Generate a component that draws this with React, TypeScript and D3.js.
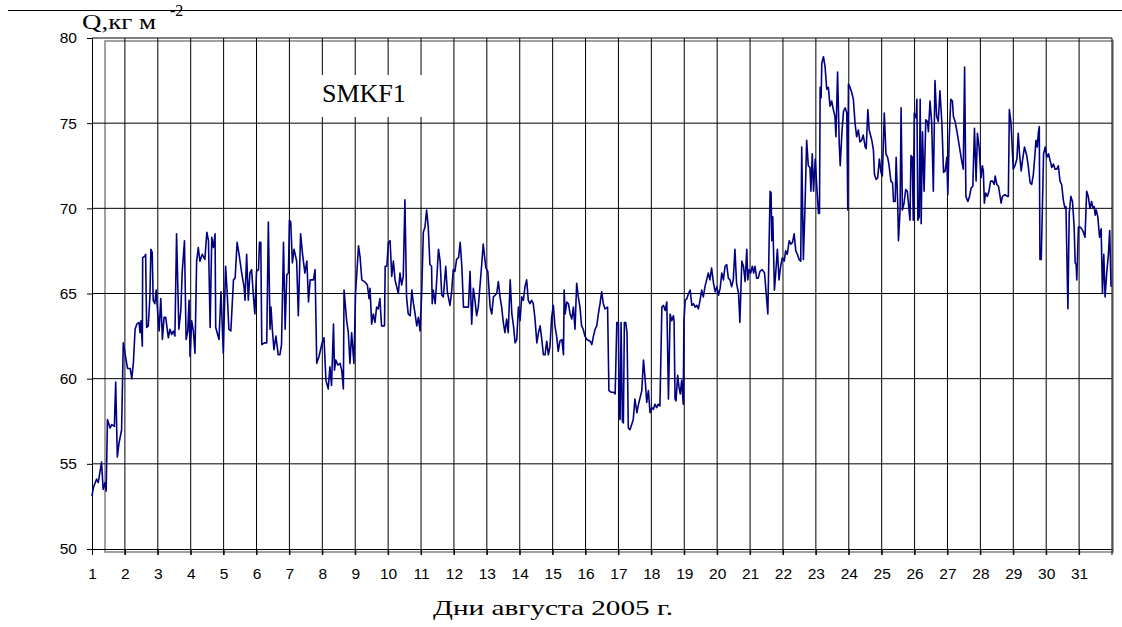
import React, { useRef, useEffect } from "react";
import * as d3 from "d3";

// Q (kg m^-2), station SMKF1, August 2005 — [day of month, value]
const qSeries: [number, number][] = [
  [1.0, 53.1], [1.04, 53.6], [1.14, 54.1], [1.19, 53.9], [1.29, 55.1], [1.34, 53.5], [1.4, 53.9], [1.43, 53.4],
  [1.47, 57.6], [1.55, 57.1], [1.6, 57.3], [1.68, 57.2], [1.72, 59.8], [1.77, 55.4], [1.82, 56.2], [1.9, 57.0],
  [1.95, 62.1], [2.02, 61.3], [2.08, 60.6], [2.16, 60.6], [2.21, 60.0], [2.26, 61.0], [2.31, 62.9], [2.36, 63.2],
  [2.43, 63.3], [2.46, 62.7], [2.49, 63.4], [2.53, 61.9], [2.54, 67.1], [2.61, 67.2], [2.63, 67.3], [2.66, 63.0],
  [2.71, 63.1], [2.76, 64.8], [2.79, 67.6], [2.83, 67.4], [2.86, 64.6], [2.91, 64.4], [2.95, 65.2], [3.0, 63.8],
  [3.04, 62.8], [3.09, 64.7], [3.14, 62.3], [3.19, 63.6], [3.24, 63.6], [3.32, 62.4], [3.37, 62.9], [3.42, 62.6],
  [3.47, 62.8], [3.52, 62.5], [3.57, 68.5], [3.64, 62.9], [3.7, 64.0], [3.74, 66.2], [3.81, 68.1], [3.86, 62.3],
  [3.91, 62.8], [3.95, 64.6], [3.98, 61.3], [4.03, 63.4], [4.08, 62.8], [4.13, 61.5], [4.18, 66.9], [4.23, 67.7],
  [4.28, 66.9], [4.35, 67.3], [4.43, 67.0], [4.49, 68.6], [4.54, 68.1], [4.59, 63.0], [4.64, 68.3], [4.69, 67.7],
  [4.74, 68.5],
  [4.76, 63.0], [4.86, 62.3], [4.92, 65.1], [4.99, 61.5], [5.06, 66.6], [5.11, 65.0], [5.16, 62.9], [5.22, 62.8],
  [5.3, 65.8], [5.35, 65.9], [5.41, 68.0], [5.47, 67.3], [5.55, 66.2], [5.62, 65.4], [5.65, 64.6], [5.7, 67.3],
  [5.75, 64.6], [5.8, 66.2], [5.85, 66.4], [5.9, 65.0], [5.95, 63.8], [6.0, 66.3], [6.06, 66.4], [6.09, 68.0],
  [6.13, 68.0], [6.16, 62.0], [6.24, 62.1], [6.31, 62.1], [6.36, 69.2], [6.41, 62.9], [6.44, 64.2], [6.48, 62.9],
  [6.53, 61.7], [6.59, 62.5], [6.66, 61.4], [6.71, 61.4], [6.76, 62.0], [6.82, 68.0], [6.87, 62.9], [6.92, 66.1],
  [6.97, 66.2], [7.0, 69.3], [7.04, 69.2], [7.09, 66.8], [7.14, 67.6], [7.22, 66.9], [7.27, 63.7], [7.34, 68.5],
  [7.4, 67.3], [7.47, 66.2], [7.53, 66.9], [7.58, 64.5], [7.63, 65.8], [7.73, 65.8], [7.78, 66.4], [7.83, 60.9],
  [7.9, 61.3], [7.98, 62.0], [8.05, 62.4], [8.11, 59.9], [8.18, 59.4], [8.23, 60.7], [8.28, 59.6], [8.34, 63.2],
  [8.37, 60.5], [8.41, 61.1], [8.47, 60.8], [8.54, 60.9], [8.59, 60.5], [8.64, 59.4], [8.66, 65.2],
  [8.74, 63.4], [8.79, 62.7], [8.84, 60.9], [8.89, 62.7], [8.96, 60.9], [9.01, 65.0], [9.1, 67.8], [9.15, 67.1],
  [9.2, 65.8], [9.28, 65.7], [9.37, 65.5], [9.42, 64.7], [9.45, 65.3], [9.5, 63.2], [9.55, 63.8], [9.6, 63.3],
  [9.65, 64.2], [9.7, 64.1], [9.75, 64.7], [9.8, 63.1], [9.89, 63.1], [9.91, 66.6], [9.96, 66.6], [10.01, 68.0],
  [10.06, 68.1], [10.11, 66.0], [10.16, 66.9], [10.21, 65.8], [10.31, 65.0], [10.36, 66.2], [10.41, 65.5], [10.46, 66.0],
  [10.51, 70.5], [10.56, 64.8], [10.61, 63.8], [10.67, 63.7], [10.72, 65.2], [10.77, 64.4], [10.82, 63.8], [10.87, 63.1],
  [10.92, 63.6], [10.97, 62.8], [11.02, 65.0], [11.07, 68.6], [11.12, 68.9], [11.17, 69.9], [11.22, 68.9], [11.27, 66.7],
  [11.32, 66.6], [11.34, 64.4], [11.37, 65.2], [11.43, 64.4], [11.48, 65.9], [11.53, 67.6], [11.58, 66.9], [11.63, 64.9],
  [11.68, 64.8], [11.75, 66.6], [11.8, 65.1], [11.88, 64.3], [11.93, 65.1], [11.98, 66.4], [12.03, 66.3], [12.08, 67.0],
  [12.14, 67.1], [12.19, 68.0], [12.24, 66.6], [12.29, 64.2], [12.34, 64.2], [12.44, 64.2], [12.49, 66.3], [12.54, 63.2],
  [12.59, 65.3], [12.64, 64.6], [12.69, 63.7], [12.74, 64.2],
  [12.84, 66.6], [12.89, 67.9], [12.97, 66.5], [13.03, 66.3], [13.1, 64.2], [13.15, 63.8], [13.2, 64.8], [13.25, 64.9],
  [13.3, 65.0], [13.35, 65.7], [13.4, 64.8], [13.45, 64.2], [13.5, 63.3], [13.55, 62.7], [13.6, 63.5], [13.65, 62.7],
  [13.71, 65.8], [13.76, 63.8], [13.81, 63.1], [13.86, 62.1], [13.91, 62.3], [13.96, 64.2], [14.01, 63.4], [14.06, 64.8],
  [14.11, 64.6], [14.16, 65.4], [14.21, 65.8], [14.26, 64.6], [14.31, 64.4], [14.36, 64.6], [14.41, 64.4], [14.46, 63.6],
  [14.52, 62.1], [14.57, 62.7], [14.62, 63.1], [14.67, 62.3], [14.72, 61.4], [14.77, 61.4], [14.82, 62.2], [14.87, 61.4],
  [14.92, 61.9], [14.97, 63.6], [15.02, 64.3], [15.07, 63.1], [15.12, 62.5], [15.17, 61.6], [15.22, 62.2], [15.28, 62.3],
  [15.33, 61.4], [15.35, 65.2], [15.38, 63.8], [15.43, 64.5], [15.48, 64.4], [15.53, 63.8], [15.58, 63.5], [15.63, 64.2],
  [15.68, 62.9], [15.73, 65.6], [15.78, 64.8], [15.83, 64.2], [15.88, 63.1], [15.93, 62.9], [15.98, 62.5], [16.04, 62.3],
  [16.14, 62.2], [16.19, 62.0], [16.24, 62.5], [16.29, 62.9], [16.34, 63.1], [16.39, 63.8], [16.44, 64.4], [16.49, 65.1],
  [16.54, 64.4], [16.59, 64.1],
  [16.67, 64.2], [16.71, 59.3], [16.78, 59.2], [16.85, 59.2], [16.9, 59.1], [16.95, 63.3], [17.0, 63.3], [17.02, 58.0],
  [17.05, 57.6], [17.08, 63.3], [17.12, 57.5], [17.15, 57.4], [17.18, 63.3], [17.22, 63.3], [17.26, 62.7], [17.3, 57.1],
  [17.35, 57.0], [17.4, 57.3], [17.45, 57.6], [17.5, 58.8], [17.56, 58.0], [17.61, 58.5], [17.66, 58.9], [17.71, 59.3],
  [17.76, 61.1], [17.81, 60.0], [17.86, 58.6], [17.91, 59.3], [17.96, 58.0], [18.01, 58.3], [18.06, 58.2], [18.11, 58.5],
  [18.16, 58.3], [18.21, 58.5], [18.26, 58.4], [18.32, 64.2], [18.37, 64.3], [18.42, 64.0], [18.47, 64.5], [18.52, 58.8],
  [18.57, 63.8], [18.62, 63.4], [18.67, 63.7], [18.69, 63.4], [18.72, 58.8], [18.75, 58.7], [18.8, 60.2], [18.84, 59.5],
  [18.88, 59.1], [18.92, 59.9], [18.97, 58.5], [18.99, 63.4], [19.03, 64.6], [19.08, 64.7], [19.13, 65.0], [19.18, 65.2],
  [19.23, 64.3], [19.28, 64.4], [19.33, 64.2], [19.38, 64.3], [19.43, 64.1], [19.48, 64.6], [19.53, 65.2], [19.58, 64.8],
  [19.63, 65.4], [19.68, 65.8], [19.73, 66.2], [19.78, 65.8], [19.83, 66.5], [19.89, 65.6], [19.94, 65.1], [19.99, 65.4],
  [20.04, 64.9], [20.09, 65.3], [20.14, 66.2], [20.19, 65.8], [20.24, 66.6], [20.29, 66.7], [20.34, 65.9], [20.39, 65.8],
  [20.44, 65.4], [20.49, 65.8], [20.54, 67.6],
  [20.59, 65.6], [20.65, 65.0], [20.69, 63.3], [20.75, 66.9], [20.8, 66.6], [20.85, 65.7], [20.9, 67.6], [20.93, 65.8],
  [20.97, 66.4], [21.02, 66.2], [21.07, 66.6], [21.11, 66.2], [21.15, 66.6], [21.2, 65.9], [21.25, 65.9], [21.3, 66.3],
  [21.37, 66.4], [21.44, 66.2], [21.49, 65.0], [21.54, 63.8], [21.58, 68.1], [21.61, 71.0], [21.64, 70.9], [21.66, 68.1],
  [21.69, 69.5], [21.74, 65.2], [21.78, 66.2], [21.83, 67.6], [21.88, 65.8], [21.93, 66.6], [21.98, 67.1], [22.04, 66.9],
  [22.08, 67.5], [22.13, 67.3], [22.19, 68.1], [22.24, 67.9], [22.29, 68.0], [22.34, 68.5], [22.39, 67.5], [22.44, 67.3],
  [22.49, 67.0], [22.54, 66.9], [22.57, 73.6], [22.62, 67.0], [22.67, 70.1], [22.72, 74.0], [22.77, 72.5], [22.82, 72.4],
  [22.85, 71.0], [22.89, 73.2], [22.93, 71.0], [22.98, 72.9], [23.03, 71.2], [23.08, 69.7], [23.11, 69.7], [23.13, 77.1],
  [23.16, 76.5], [23.18, 78.5], [23.23, 78.9], [23.28, 78.3], [23.33, 77.0], [23.38, 77.1], [23.43, 76.0], [23.48, 76.3],
  [23.53, 75.8], [23.58, 75.4], [23.61, 74.2], [23.66, 78.0], [23.71, 73.8], [23.74, 72.5], [23.79, 74.4], [23.84, 75.7],
  [23.89, 75.9], [23.94, 75.6], [23.97, 69.9], [23.99, 77.3], [24.04, 77.1], [24.09, 76.8], [24.14, 76.4], [24.19, 75.0],
  [24.24, 74.2], [24.29, 74.6], [24.34, 73.9], [24.39, 74.0], [24.44, 74.3], [24.5, 73.6],
  [24.53, 73.5], [24.58, 75.8], [24.62, 74.6], [24.7, 74.0], [24.75, 73.4], [24.78, 72.0], [24.83, 71.7], [24.88, 71.8],
  [24.93, 72.9], [24.98, 72.1], [25.02, 71.9], [25.08, 75.6], [25.13, 73.2], [25.18, 73.0], [25.22, 72.6], [25.28, 71.6],
  [25.33, 71.5], [25.36, 70.4], [25.41, 70.4], [25.44, 73.0], [25.49, 70.1], [25.51, 68.1], [25.56, 69.9], [25.59, 75.9],
  [25.63, 69.9], [25.68, 70.3], [25.73, 71.1], [25.78, 71.0], [25.83, 69.9], [25.86, 69.3], [25.89, 73.1], [25.93, 73.0],
  [25.96, 69.3], [25.99, 75.6], [26.05, 75.3], [26.07, 76.4], [26.1, 69.3], [26.14, 69.5], [26.17, 76.4], [26.2, 69.1],
  [26.24, 74.5], [26.29, 71.0], [26.34, 75.2], [26.39, 75.1], [26.42, 74.5], [26.47, 76.3], [26.52, 75.0], [26.57, 71.0],
  [26.62, 77.5], [26.67, 75.4], [26.72, 75.1], [26.77, 76.9], [26.83, 75.0], [26.88, 72.1], [26.93, 72.2], [26.98, 73.0],
  [27.01, 70.8], [27.05, 74.0], [27.1, 76.4], [27.15, 76.3], [27.18, 75.4], [27.23, 75.1], [27.28, 74.6], [27.33, 74.0],
  [27.38, 73.4], [27.43, 72.8], [27.48, 72.3], [27.52, 78.3], [27.56, 70.7], [27.62, 70.4], [27.67, 70.7], [27.72, 71.2],
  [27.77, 71.3], [27.82, 74.7], [27.87, 71.6], [27.91, 74.4], [27.96, 73.6], [28.02, 71.8], [28.06, 72.5], [28.09, 72.2],
  [28.12, 70.3], [28.16, 70.9], [28.21, 70.7], [28.26, 71.0], [28.31, 71.6], [28.37, 71.6], [28.42, 71.4], [28.45, 71.9],
  [28.5, 71.4], [28.55, 71.3], [28.63, 70.3], [28.67, 70.7], [28.75, 70.8], [28.82, 70.7], [28.85, 70.7], [28.88, 75.8],
  [28.93, 75.0], [29.0, 72.3], [29.05, 72.5], [29.11, 72.9], [29.15, 74.4], [29.19, 73.2], [29.24, 72.2], [29.28, 72.8],
  [29.34, 73.6], [29.41, 73.1], [29.46, 72.4], [29.51, 71.5], [29.56, 71.4], [29.61, 72.0], [29.66, 73.2], [29.69, 74.0],
  [29.73, 73.6], [29.76, 74.4], [29.79, 74.8], [29.81, 67.0], [29.85, 67.0], [29.89, 70.5], [29.92, 73.2], [29.97, 73.6],
  [30.02, 73.0], [30.07, 73.2], [30.12, 72.8], [30.17, 72.4], [30.22, 72.6], [30.27, 72.3], [30.32, 72.3], [30.37, 72.5],
  [30.42, 71.6], [30.47, 71.4], [30.52, 70.5], [30.57, 70.0], [30.6, 70.1], [30.66, 64.1], [30.7, 69.7], [30.75, 70.7],
  [30.8, 70.4], [30.85, 68.9], [30.88, 66.8], [30.91, 66.7], [30.93, 65.8], [30.98, 68.9], [31.03, 68.9], [31.08, 68.8],
  [31.13, 68.6], [31.18, 68.3], [31.23, 71.0], [31.28, 70.7], [31.33, 70.0], [31.38, 70.4], [31.42, 70.0], [31.46, 70.1],
  [31.49, 69.6], [31.52, 69.9], [31.57, 69.5], [31.62, 68.3], [31.67, 68.8], [31.71, 65.0], [31.75, 67.3], [31.79, 64.8],
  [31.84, 66.2], [31.89, 67.3], [31.93, 68.7], [31.97, 65.4],
];

const dayTicks = [1, 2, 3, 4, 5, 6, 7, 8, 9, 10, 11, 12, 13, 14, 15, 16, 17, 18, 19, 20, 21, 22, 23, 24, 25, 26, 27, 28, 29, 30, 31];
const qTicks = [50, 55, 60, 65, 70, 75, 80];
const dayDomain: [number, number] = [1, 32];
const qDomain: [number, number] = [50, 80];

const stationName = "SMKF1";
const yTitle = "Q,кг м";
const yTitleSup = "-2";
const xTitle = "Дни августа 2005 г.";

const WIDTH = 1122;
const HEIGHT = 627;
const serif = "'Liberation Serif', 'Times New Roman', serif";
const sans = "'Liberation Sans', Arial, sans-serif";

const App: React.FC = () => {
  const svgRef = useRef<SVGSVGElement | null>(null);

  useEffect(() => {
    const svg = d3.select(svgRef.current);
    svg.selectAll("*").remove();

    const margin = { top: 38, right: 10, bottom: 78, left: 92 };
    const x = d3.scaleLinear().domain(dayDomain).range([margin.left, WIDTH - margin.right]);
    const y = d3.scaleLinear().domain(qDomain).range([HEIGHT - margin.bottom, margin.top]);
    const [x0, x1] = x.range();
    const [yb, yt] = y.range();

    svg.append("rect").attr("width", WIDTH).attr("height", HEIGHT).attr("fill", "#ffffff");

    // frame line across the top
    svg.append("line")
      .attr("x1", 8).attr("x2", WIDTH).attr("y1", 10.5).attr("y2", 10.5)
      .attr("stroke", "#000").attr("stroke-width", 1);

    // offset grey plot-area border
    svg.append("rect")
      .attr("x", x0 + 13).attr("y", yt + 3)
      .attr("width", x1 - x0 - 12).attr("height", yb - yt)
      .attr("fill", "none").attr("stroke", "#8a8a8a").attr("stroke-width", 1.6);

    // grid
    const grid = svg.append("g").attr("stroke", "#000").attr("stroke-width", 1);
    grid.selectAll(".hg")
      .data(qTicks.slice(1))
      .enter()
      .append("line")
      .attr("x1", x0).attr("x2", x1)
      .attr("y1", (d) => y(d)).attr("y2", (d) => y(d));
    grid.selectAll(".vg")
      .data([...dayTicks.slice(1), dayDomain[1]])
      .enter()
      .append("line")
      .attr("x1", (d) => x(d)).attr("x2", (d) => x(d))
      .attr("y1", yt).attr("y2", yb + 6);

    // Y axis
    const yAxis = svg.append("g")
      .attr("transform", `translate(${x0},0)`)
      .call(d3.axisLeft(y).tickValues(qTicks).tickSize(5).tickSizeOuter(0).tickPadding(10));
    yAxis.attr("font-family", sans).attr("font-size", 15.5);
    yAxis.selectAll("line").attr("stroke", "#000");
    yAxis.select("path").attr("stroke", "#000");
    yAxis.selectAll("text").attr("fill", "#000");

    // X axis
    const xAxis = svg.append("g")
      .attr("transform", `translate(0,${yb})`)
      .call(d3.axisBottom(x).tickValues(dayTicks).tickFormat(d3.format("d") as any).tickSize(6).tickSizeOuter(0).tickPadding(13));
    xAxis.attr("font-family", sans).attr("font-size", 15.5);
    xAxis.selectAll("line").attr("stroke", "#000");
    xAxis.select("path").attr("stroke", "#000");
    xAxis.selectAll("text").attr("fill", "#000");

    // series
    const line = d3.line<[number, number]>()
      .x((d) => x(d[0]))
      .y((d) => y(d[1]));
    svg.append("path")
      .datum(qSeries)
      .attr("fill", "none")
      .attr("stroke", "#000080")
      .attr("stroke-width", 1.6)
      .attr("stroke-linejoin", "round")
      .attr("d", line);

    // station label
    svg.append("rect")
      .attr("x", 318).attr("y", 75).attr("width", 108).attr("height", 42)
      .attr("fill", "#ffffff");
    svg.append("text")
      .attr("x", 322).attr("y", 102)
      .attr("font-family", serif)
      .attr("font-size", 26)
      .attr("fill", "#000")
      .text(stationName);

    // Y title
    svg.append("text")
      .attr("x", 82).attr("y", 29)
      .attr("font-family", serif)
      .attr("font-size", 22)
      .attr("textLength", 74)
      .attr("lengthAdjust", "spacingAndGlyphs")
      .attr("fill", "#000")
      .text(yTitle);
    svg.append("text")
      .attr("x", 170).attr("y", 16)
      .attr("font-family", serif)
      .attr("font-size", 16)
      .attr("fill", "#000")
      .text(yTitleSup);

    // X title
    svg.append("text")
      .attr("x", 553).attr("y", 615)
      .attr("text-anchor", "middle")
      .attr("font-family", serif)
      .attr("font-size", 22)
      .attr("textLength", 240)
      .attr("lengthAdjust", "spacingAndGlyphs")
      .attr("fill", "#000")
      .text(xTitle);
  }, []);

  return (
    <div style={{ position: "absolute", left: 0, top: 0, width: WIDTH, height: HEIGHT, background: "#fff" }}>
      <svg ref={svgRef} width={WIDTH} height={HEIGHT} style={{ display: "block" }}></svg>
    </div>
  );
};

export default App;
